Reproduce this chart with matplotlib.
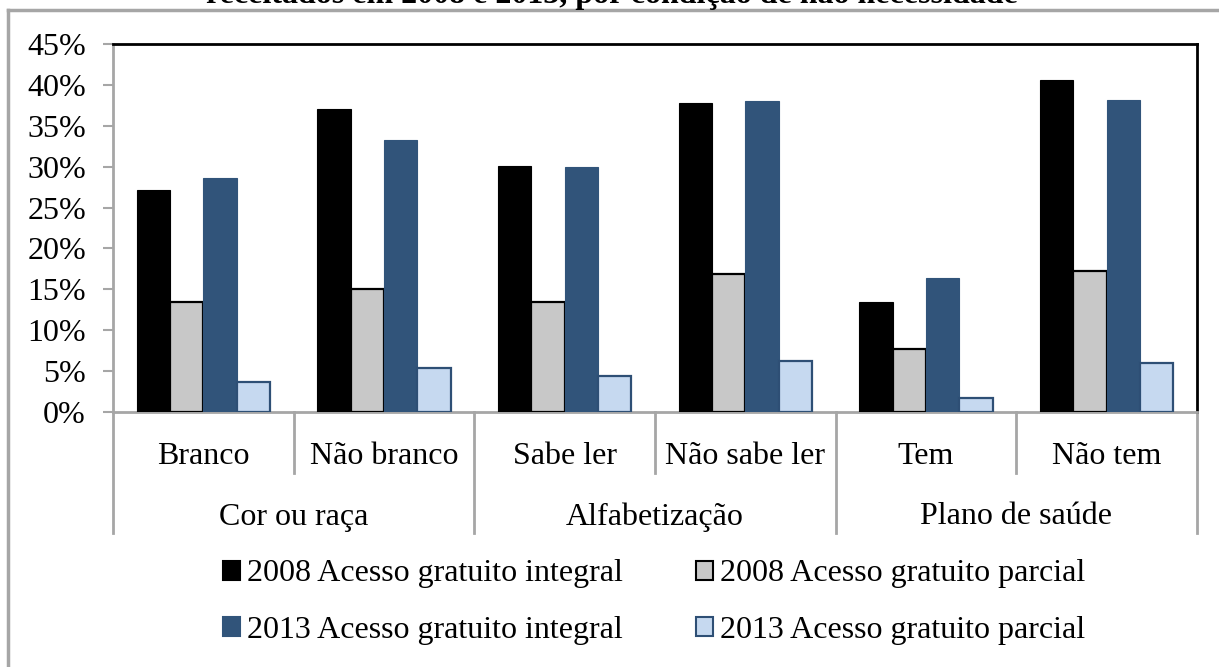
import matplotlib
matplotlib.use('Agg')
import matplotlib.pyplot as plt
import numpy as np
from matplotlib.lines import Line2D
from matplotlib.patches import Patch

plt.rcParams['font.family'] = ['Liberation Serif', 'DejaVu Serif']

# Data (percent)
categories = ['Branco', 'Não branco', 'Sabe ler', 'Não sabe ler', 'Tem', 'Não tem']
groups = ['Cor ou raça', 'Alfabetização', 'Plano de saúde']
series_names = ['2008 Acesso gratuito integral', '2008 Acesso gratuito parcial',
                '2013 Acesso gratuito integral', '2013 Acesso gratuito parcial']
v2008_integral = [27.1, 37.0, 30.1, 37.8, 13.4, 40.6]
v2008_parcial = [13.4, 15.1, 13.4, 16.9, 7.7, 17.3]
v2013_integral = [28.6, 33.3, 30.0, 38.0, 16.4, 38.1]
v2013_parcial = [3.7, 5.4, 4.4, 6.2, 1.7, 6.0]
yticks = list(range(0, 50, 5))
title = 'receitados em 2008 e 2013, por condição de não necessidade'

FS = 23
W, H = 1219, 667
fig = plt.figure(figsize=(W / 100, H / 100), dpi=100)
ax = fig.add_axes([113 / W, (H - 412) / H, (1197 - 113) / W, (412 - 44) / H])

fills = ['#000000', '#C8C8C8', '#31547A', '#C6D9F0']
edges = ['#000000', '#000000', '#31547A', '#2E4F75']
lws = [0.8, 1.6, 0.8, 1.6]
values = [v2008_integral, v2008_parcial, v2013_integral, v2013_parcial]

x = np.arange(len(categories))
bw = 0.1846
for i, vals in enumerate(values):
    ax.bar(x + (i - 1.5) * bw, vals, bw, color=fills[i], edgecolor=edges[i],
           linewidth=lws[i], label=series_names[i], zorder=3)

ax.set_xlim(-0.5, len(categories) - 0.5)
ax.set_ylim(0, 45)
ax.set_yticks(yticks)
ax.set_yticklabels([f'{t}%' for t in yticks], fontsize=FS)
ax.set_xticks([])
ax.tick_params(axis='y', direction='out', length=7.5, width=1.5, color='#A6A6A6', pad=12)

for s in ['top', 'right']:
    ax.spines[s].set_color('black')
    ax.spines[s].set_linewidth(2)
for s in ['left', 'bottom']:
    ax.spines[s].set_color('#A6A6A6')
    ax.spines[s].set_linewidth(2)

# multi-level category axis
trans = ax.get_xaxis_transform()
short_y = -(473 - 412) / 368
long_y = -(533 - 412) / 368
for b in np.arange(-0.5, len(categories), 1.0):
    bottom = long_y if int(round(b + 0.5)) % 2 == 0 else short_y
    ax.plot([b, b], [0, bottom], transform=trans, color='#A6A6A6', lw=2,
            clip_on=False, zorder=1)
for xi, c in zip(x, categories):
    ax.text(xi, -(456 - 412) / 368, c, transform=trans, ha='center', va='center',
            fontsize=FS)
for gi, g in enumerate(groups):
    ax.text(2 * gi + 0.5, -(517 - 412) / 368, g, transform=trans, ha='center',
            va='center', fontsize=FS)

# legend
handles = [Patch(facecolor=fills[i], edgecolor=edges[i], linewidth=1.5) for i in range(4)]
order = [0, 2, 1, 3]
fig.legend([handles[i] for i in order], [series_names[i] for i in order],
           ncol=2, loc='center', bbox_to_anchor=(654 / W, (H - 602) / H),
           frameon=False, fontsize=FS, handlelength=0.53, handleheight=0.53,
           handletextpad=0.22, columnspacing=2.3, labelspacing=0.85,
           borderaxespad=0)

# outer frame (cropped) and cut-off title
fig.add_artist(Line2D([8 / W, 1.0], [(H - 10) / H, (H - 10) / H], color='#A6A6A6', lw=2.5))
fig.add_artist(Line2D([8 / W, 8 / W], [0, (H - 10) / H], color='#A6A6A6', lw=2.5))
fig.text(612 / W, (H - 3) / H, title, ha='center', va='baseline', fontsize=FS,
         fontweight='bold')

fig.savefig('out.png', dpi=100)
